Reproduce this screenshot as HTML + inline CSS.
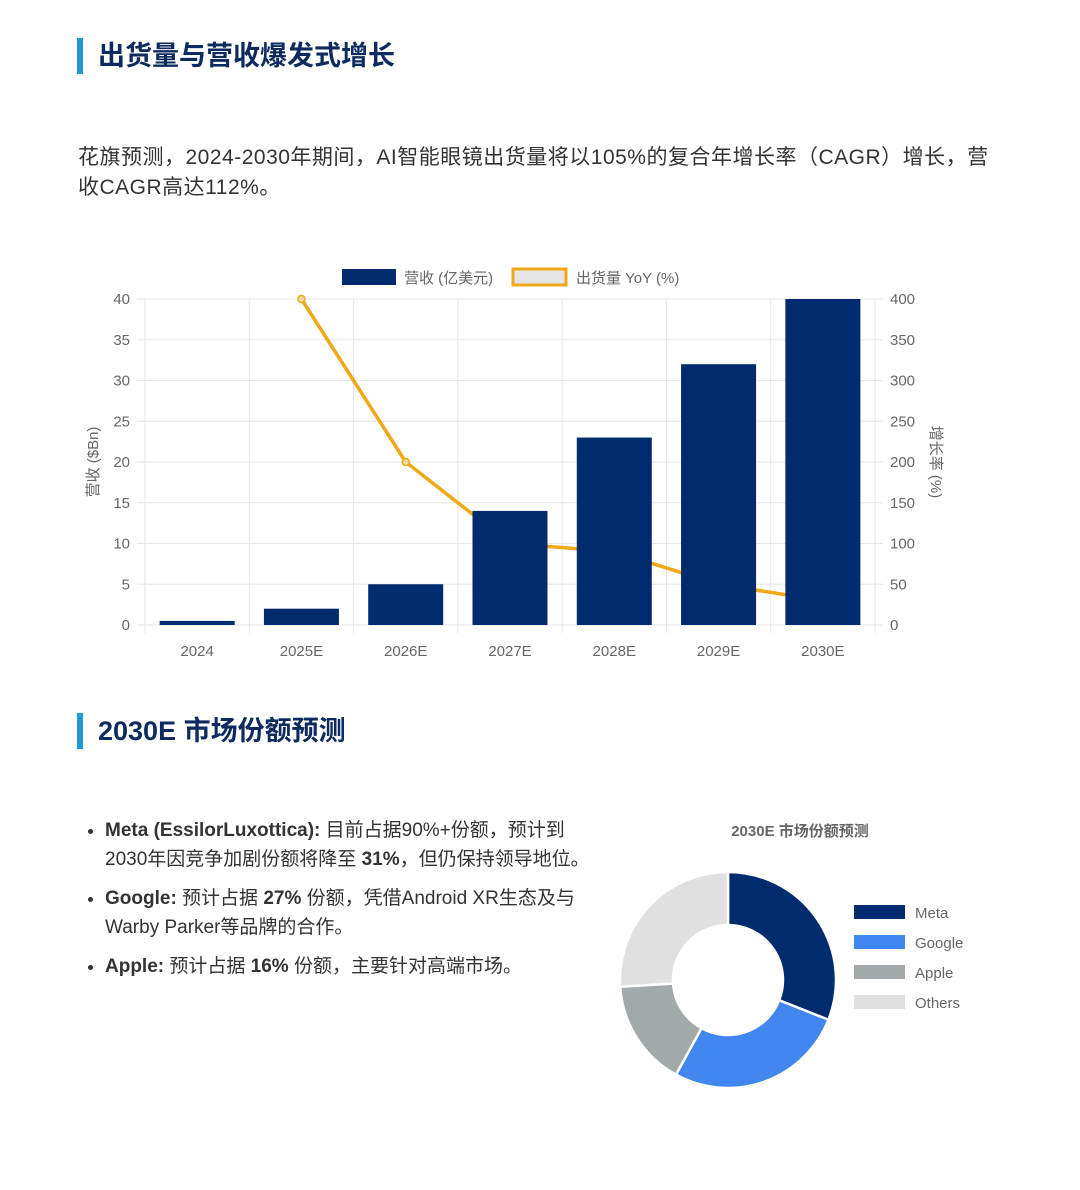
<!DOCTYPE html>
<html><head><meta charset="utf-8">
<style>
body{margin:0;background:#fff;width:1080px;height:1190px;overflow:hidden;font-family:"Liberation Sans","Noto Sans CJK SC",sans-serif;}
.h{position:absolute;left:77px;height:36px;border-left:6px solid #1a9bd7;padding-left:15px;font-size:27px;font-weight:bold;color:#0d2b5e;line-height:36px;}
.p{position:absolute;left:78px;top:143px;width:960px;font-size:21px;line-height:30px;color:#333;letter-spacing:0.5px;white-space:nowrap;}
ul{position:absolute;left:78px;top:816px;width:560px;margin:0;padding-left:27px;font-size:19px;line-height:29px;color:#333;white-space:nowrap;}
li{margin-bottom:10px;}
</style></head><body>
<div class="h" style="top:38px">出货量与营收爆发式增长</div>
<div class="p">花旗预测，2024-2030年期间，AI智能眼镜出货量将以105%的复合年增长率（CAGR）增长，营<br>收CAGR高达112%。</div>
<svg id="c1" width="1080" height="700" style="position:absolute;left:0;top:0"></svg>
<div class="h" style="top:713px">2030E 市场份额预测</div>
<ul>
<li><b>Meta (EssilorLuxottica):</b> 目前占据90%+份额，预计到<br>2030年因竞争加剧份额将降至 <b>31%</b>，但仍保持领导地位。</li>
<li><b>Google:</b> 预计占据 <b>27%</b> 份额，凭借Android XR生态及与<br>Warby Parker等品牌的合作。</li>
<li><b>Apple:</b> 预计占据 <b>16%</b> 份额，主要针对高端市场。</li>
</ul>
<svg id="c2" width="1080" height="1190" style="position:absolute;left:0;top:0;pointer-events:none"></svg>
<script>
const categories=["2024","2025E","2026E","2027E","2028E","2029E","2030E"];
const revenue=[0.5,2,5,14,23,32,40];
const yoy=[null,400,200,100,90,50,30];
const leftTicks=[0,5,10,15,20,25,30,35,40];
const rightTicks=[0,50,100,150,200,250,300,350,400];
const shareLabels=["Meta","Google","Apple","Others"];
const shareValues=[31,27,16,26];
const shareColors=["#002b6e","#4287f0","#a2a9ab","#e0e0e0"];

const NS="http://www.w3.org/2000/svg";
function mk(p,t,a,txt){const e=document.createElementNS(NS,t);for(const k in a)e.setAttribute(k,a[k]);if(txt!=null)e.textContent=txt;p.appendChild(e);return e;}
const s=document.getElementById('c1');
const L=145,R=875,T=299,B=625,n=categories.length,cw=(R-L)/n;
const y1=v=>B-(v/40)*(B-T), y2=v=>B-(v/400)*(B-T), xc=i=>L+cw*(i+0.5);
leftTicks.forEach((v,i)=>{
 let g=mk(s,'line',{x1:L-8,x2:R+8,y1:y1(v),y2:y1(v),stroke:'#e6e6e6'});
 
 let t=mk(s,'text',{x:130,y:y1(v)+5,'text-anchor':'end','font-size':15,fill:'#666'},v);
 
 let t2=mk(s,'text',{x:890,y:y2(rightTicks[i])+5,'font-size':15,fill:'#666'},rightTicks[i]);
 
});
for(let i=0;i<=n;i++){let g=mk(s,'line',{x1:L+cw*i,x2:L+cw*i,y1:T,y2:B+8,stroke:'#e6e6e6'});}
let pts=[];yoy.forEach((v,i)=>{if(v!=null)pts.push(xc(i)+','+y2(v));});
let ln=mk(s,'polyline',{points:pts.join(' '),fill:'none',stroke:'#f0a818','stroke-width':3.5,'stroke-linejoin':'round'});

yoy.forEach((v,i)=>{if(v==null)return;let c=mk(s,'circle',{cx:xc(i),cy:y2(v),r:3.5,fill:'#f5d9a0',stroke:'#f0a818','stroke-width':1.5});});
revenue.forEach((v,i)=>{
 let b=mk(s,'rect',{x:xc(i)-37.5,y:y1(v),width:75,height:B-y1(v),fill:'#002b6e'});
 
 let t=mk(s,'text',{x:xc(i),y:656,'text-anchor':'middle','font-size':15,fill:'#666'},categories[i]);
 
});
let yt=mk(s,'text',{x:0,y:0,transform:'translate(98,462) rotate(-90)','text-anchor':'middle','font-size':15,fill:'#666'},'营收 ($Bn)');

let yt2=mk(s,'text',{x:0,y:0,transform:'translate(931,462) rotate(90)','text-anchor':'middle','font-size':15,fill:'#666'},'增长率 (%)');

let lg1=mk(s,'rect',{x:342,y:269,width:54,height:16,fill:'#002b6e'});
let lt1=mk(s,'text',{x:404,y:283,'font-size':15,fill:'#666'},'营收 (亿美元)');
let lg2=mk(s,'rect',{x:513,y:269,width:53,height:16,fill:'#e5e5e5',stroke:'#f0a818','stroke-width':3});
let lt2=mk(s,'text',{x:576,y:283,'font-size':15,fill:'#666'},'出货量 YoY (%)');

const d=document.getElementById('c2');
const cx=728,cy=980,ro=108,ri=55,tot=shareValues.reduce((a,b)=>a+b,0);
let ang=-Math.PI/2;
const P=(r,a)=>[cx+r*Math.cos(a),cy+r*Math.sin(a)];
shareValues.forEach((v,i)=>{
 const a2=ang+v/tot*2*Math.PI,lg=(a2-ang)>Math.PI?1:0;
 const [x1,y1_]=P(ro,ang),[x2,y2_]=P(ro,a2),[x3,y3]=P(ri,a2),[x4,y4]=P(ri,ang);
 let p=mk(d,'path',{d:`M${x1},${y1_}A${ro},${ro} 0 ${lg} 1 ${x2},${y2_}L${x3},${y3}A${ri},${ri} 0 ${lg} 0 ${x4},${y4}Z`,fill:shareColors[i],stroke:'#fff','stroke-width':2.5});
 
 ang=a2;
 let r=mk(d,'rect',{x:854,y:905+i*30,width:51,height:14,fill:shareColors[i]});
 
 let t=mk(d,'text',{x:915,y:918+i*30,'font-size':15,fill:'#666'},shareLabels[i]);
 
});
let dt=mk(d,'text',{x:800,y:836,'text-anchor':'middle','font-size':15,'font-weight':'bold',fill:'#666'},'2030E 市场份额预测');

</script>
</body></html>
